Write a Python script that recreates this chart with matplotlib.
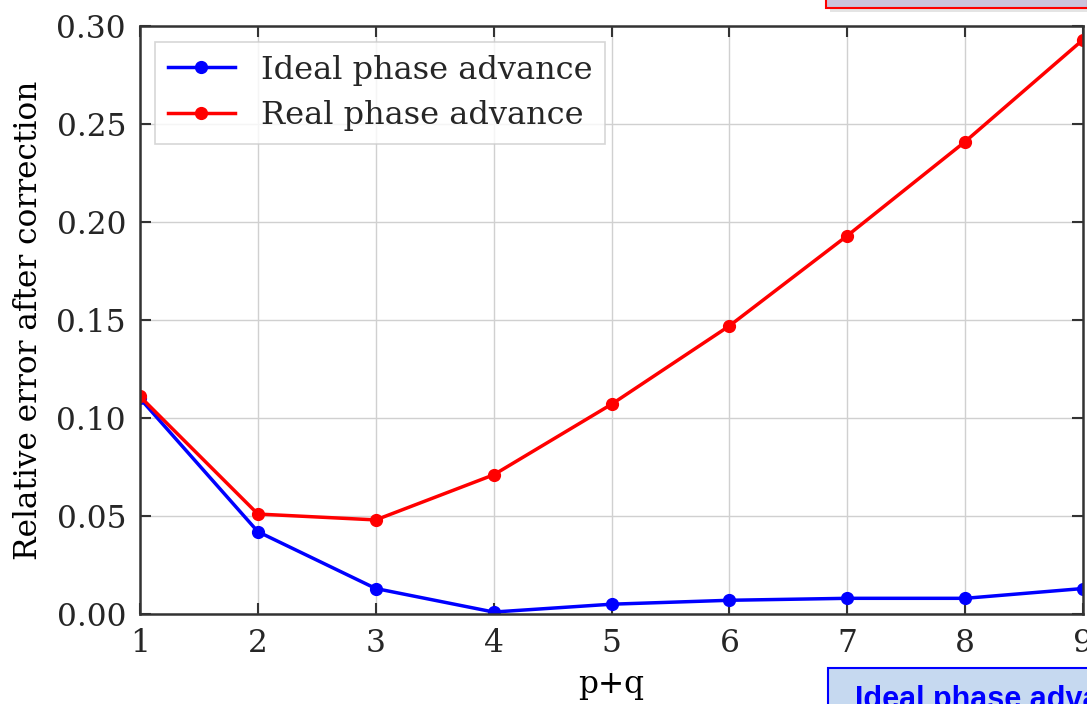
import matplotlib
matplotlib.use('Agg')
import matplotlib.pyplot as plt
from matplotlib.patches import Rectangle

pq = [1, 2, 3, 4, 5, 6, 7, 8, 9]
ideal = [0.110, 0.042, 0.013, 0.001, 0.005, 0.007, 0.008, 0.008, 0.013]
real = [0.111, 0.051, 0.048, 0.071, 0.107, 0.147, 0.193, 0.241, 0.293]

plt.rcParams['font.family'] = 'DejaVu Serif'
plt.rcParams['text.color'] = '#262626'

fig = plt.figure(figsize=(10.87, 7.04), dpi=100)
ax = fig.add_axes([140/1087, 90/704, 943/1087, 588/704])

ax.plot(pq, ideal, '-o', color='#0000ff', lw=2.5, ms=8.5, label='Ideal phase advance')
ax.plot(pq, real, '-o', color='#ff0000', lw=2.5, ms=8.5, label='Real phase advance')

ax.set_xlim(1, 9)
ax.set_ylim(0, 0.30)
ax.set_xticks(pq)
ax.set_yticks([0, 0.05, 0.10, 0.15, 0.20, 0.25, 0.30])
ax.set_yticklabels(['0.00', '0.05', '0.10', '0.15', '0.20', '0.25', '0.30'])
ax.grid(True, color='#d0d0d0', lw=1.0)
ax.set_axisbelow(True)
for s in ax.spines.values():
    s.set_color('#333333')
    s.set_linewidth(1.8)
ax.tick_params(direction='in', length=8, width=1.5, color='#333333',
               top=True, right=True, labelsize=22.5, labelcolor='#262626', pad=10)

ax.set_xlabel('p+q', fontsize=22.5, labelpad=7)
ax.set_ylabel('Relative error after correction', fontsize=22.5, labelpad=9)

leg = ax.legend(loc='upper left', fontsize=23, frameon=True, fancybox=False,
                borderpad=0.4, handlelength=2.1, handletextpad=0.8,
                labelspacing=0.45, bbox_to_anchor=(0.016, 0.973),
                borderaxespad=0.0)
leg.get_frame().set_edgecolor('#cccccc')
leg.get_frame().set_linewidth(1.2)

# slide overlays cut off by the crop
fig.patches.append(Rectangle((830/1087, 1 - 12/704), 260/1087, 0.05,
                             transform=fig.transFigure, facecolor='#e4e4e4',
                             edgecolor='none', zorder=4))
fig.patches.append(Rectangle((826/1087, 1 - 8/704), 262/1087, 0.05,
                             transform=fig.transFigure, facecolor='#cbc3dc',
                             edgecolor='#ff0000', lw=1.5, zorder=5))
fig.patches.append(Rectangle((828/1087, -0.05), 262/1087, 0.05 + 36/704,
                             transform=fig.transFigure, facecolor='#c6d9f0',
                             edgecolor='#0000ff', lw=1.5, zorder=5))
fig.text(855/1087, 1 - 685/704, 'Ideal phase advance', fontsize=22, fontweight='bold',
         color='#0000ff', family='Liberation Sans', va='top', zorder=6)

fig.savefig('out.png', dpi=100)
